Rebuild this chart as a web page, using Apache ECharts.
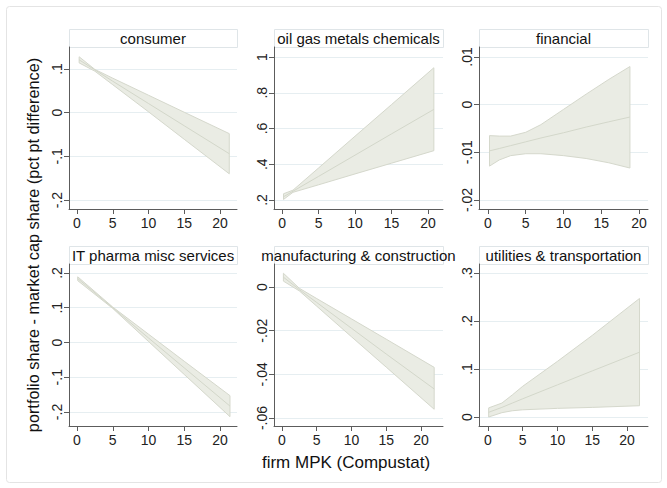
<!DOCTYPE html>
<html>
<head>
<meta charset="utf-8">
<script src="https://cdn.jsdelivr.net/npm/echarts@6/dist/echarts.min.js"></script>
<style>
html,body{margin:0;padding:0;background:#fff;}
#c{width:667px;height:488px;}
</style>
</head>
<body>
<div id="c"></div>
<script>
// ---------- data ----------
const panelTitles = ['consumer', 'oil gas metals chemicals', 'financial',
  'IT pharma misc services', 'manufacturing & construction', 'utilities & transportation'];

const xTicks = [0, 5, 10, 15, 20];

// consumer
const xConsumer   = [0.3, 2.5, 5, 10, 15, 21.3];
const loConsumer  = [0.114, 0.095, 0.064, 0.002, -0.061, -0.140];
const hiConsumer  = [0.128, 0.099, 0.079, 0.040, 0.001, -0.048];
const fitConsumer = [0.121, 0.098, 0.072, 0.021, -0.030, -0.094];
const yTicksConsumer = [-0.2, -0.1, 0, 0.1];

// oil gas metals chemicals
const xOil   = [0.2, 1.5, 5, 10, 15, 20.8];
const loOil  = [0.203, 0.243, 0.285, 0.346, 0.406, 0.476];
const hiOil  = [0.235, 0.255, 0.379, 0.557, 0.734, 0.940];
const fitOil = [0.218, 0.249, 0.332, 0.451, 0.570, 0.707];
const yTicksOil = [0.2, 0.4, 0.6, 0.8, 1];

// financial
const xFin   = [0.2, 1.5, 3, 5, 7, 10, 13, 16, 18.8];
const loFin  = [-0.0129, -0.0116, -0.0107, -0.0103, -0.0103, -0.0107, -0.0113, -0.0122, -0.0133];
const hiFin  = [-0.0065, -0.0066, -0.0066, -0.0058, -0.0042, -0.0010, 0.0022, 0.0053, 0.0080];
const fitFin = [-0.0097, -0.0092, -0.0086, -0.0078, -0.0070, -0.0059, -0.0047, -0.0036, -0.0026];
const yTicksFin = [-0.02, -0.01, 0, 0.01];

// IT pharma misc services
const xIT   = [0.1, 5, 10, 15, 21.4];
const loIT  = [0.178, 0.098, 0.003, -0.092, -0.2135];
const hiIT  = [0.189, 0.102, 0.024, -0.054, -0.153];
const fitIT = [0.184, 0.100, 0.013, -0.073, -0.183];
const yTicksIT = [-0.2, -0.1, 0, 0.1, 0.2];

// manufacturing & construction
const xMan   = [0.2, 2.5, 5, 10, 15, 21.9];
const loMan  = [0.0027, -0.0018, -0.0088, -0.0228, -0.0367, -0.0560];
const hiMan  = [0.0063, -0.0006, -0.0053, -0.0146, -0.0239, -0.0368];
const fitMan = [0.0045, -0.0012, -0.0071, -0.0189, -0.0307, -0.0467];
const yTicksMan = [-0.06, -0.04, -0.02, 0];

// utilities & transportation
const xUt   = [0.1, 2, 3.5, 5, 10, 15, 21.8];
const loUt  = [0.0, 0.009, 0.013, 0.015, 0.018, 0.020, 0.0235];
const hiUt  = [0.019, 0.029, 0.046, 0.064, 0.116, 0.170, 0.247];
const fitUt = [0.0098, 0.020, 0.029, 0.038, 0.067, 0.096, 0.135];
const yTicksUt = [0, 0.1, 0.2, 0.3];

const xTitle = 'firm MPK (Compustat)';
const yTitle = 'portfolio share - market cap share (pct pt difference)';

// ---------- layout ----------
const FONT = '"Liberation Sans", Arial, Helvetica, sans-serif';
const panels = [
  {x: xConsumer, lo: loConsumer, hi: hiConsumer, fit: fitConsumer, yt: yTicksConsumer,
   grid: {left: 69, top: 47, width: 168, height: 162}, xr: [-1.12, 22.38], yr: [-0.2206, 0.1504]},
  {x: xOil, lo: loOil, hi: hiOil, fit: fitOil, yt: yTicksOil,
   grid: {left: 274, top: 47, width: 169, height: 162}, xr: [-1.10, 22.05], yr: [0.1497, 1.056]},
  {x: xFin, lo: loFin, hi: hiFin, fit: fitFin, yt: yTicksFin,
   grid: {left: 479, top: 47, width: 169, height: 162}, xr: [-1.19, 21.19], yr: [-0.0219, 0.0121]},
  {x: xIT, lo: loIT, hi: hiIT, fit: fitIT, yt: yTicksIT,
   grid: {left: 69, top: 264, width: 168, height: 162}, xr: [-1.12, 22.38], yr: [-0.2403, 0.2259]},
  {x: xMan, lo: loMan, hi: hiMan, fit: fitMan, yt: yTicksMan,
   grid: {left: 274, top: 264, width: 169, height: 162}, xr: [-1.15, 23.17], yr: [-0.06366, 0.01053]},
  {x: xUt, lo: loUt, hi: hiUt, fit: fitUt, yt: yTicksUt,
   grid: {left: 479, top: 264, width: 169, height: 162}, xr: [-1.29, 23.02], yr: [-0.01875, 0.31875]}
];

function fmtY(v) {
  const n = Number(Number(v).toFixed(6));
  if (n === 0) return '0';
  return String(n).replace(/^(-?)0\./, '$1.');
}

const AXIS_COLOR = '#5c5c5c';
const grids = [], xAxes = [], yAxes = [], series = [], graphics = [];

// outer frame
graphics.push({type: 'rect', shape: {x: 6.5, y: 6.5, width: 655, height: 476, r: 3},
  style: {fill: 'none', stroke: '#e4e4e4', lineWidth: 1}, silent: true});

panels.forEach((p, i) => {
  grids.push(Object.assign({containLabel: false}, p.grid));
  xAxes.push({
    type: 'value', gridIndex: i, min: p.xr[0], max: p.xr[1],
    axisLine: {show: true, onZero: false, lineStyle: {color: AXIS_COLOR, width: 1}},
    axisTick: {show: true, length: 5, customValues: xTicks, lineStyle: {color: AXIS_COLOR}},
    axisLabel: {show: true, customValues: xTicks, margin: 7, color: '#222', fontSize: 14, fontFamily: FONT},
    splitLine: {show: false}
  });
  yAxes.push({
    type: 'value', gridIndex: i, min: p.yr[0], max: p.yr[1],
    axisLine: {show: true, onZero: false, lineStyle: {color: AXIS_COLOR, width: 1}},
    axisTick: {show: true, length: 5, customValues: p.yt, lineStyle: {color: AXIS_COLOR}},
    axisLabel: {show: true, customValues: p.yt, rotate: 90, margin: 5, color: '#222', fontSize: 14,
      fontFamily: FONT, formatter: fmtY},
    splitLine: {show: true, lineStyle: {color: '#e6eef1', width: 1}}
  });
  const band = p.x.map((xv, k) => [xv, p.lo[k], p.hi[k]]);
  series.push({
    type: 'custom', xAxisIndex: i, yAxisIndex: i, data: band,
    encode: {x: 0, y: [1, 2]},
    clip: true, silent: true,
    renderItem: (params, api) => {
      if (params.dataIndex !== 0) return null;
      const pts = [];
      for (let k = 0; k < band.length; k++) pts.push(api.coord([band[k][0], band[k][2]]));
      for (let k = band.length - 1; k >= 0; k--) pts.push(api.coord([band[k][0], band[k][1]]));
      return {type: 'polygon', shape: {points: pts},
        style: {fill: '#eaece4', stroke: '#d5d8cc', lineWidth: 1}};
    }
  });
  series.push({
    type: 'line', xAxisIndex: i, yAxisIndex: i, symbol: 'none', silent: true,
    data: p.x.map((xv, k) => [xv, p.fit[k]]),
    lineStyle: {color: '#d3d7ca', width: 1}, z: 3
  });
  // subtitle box
  const g = p.grid;
  graphics.push({type: 'rect', shape: {x: g.left + 0.5, y: g.top - 18 + 0.5, width: g.width, height: 18},
    style: {fill: '#ffffff', stroke: '#dfe5e8', lineWidth: 1}, silent: true});
  graphics.push({type: 'text', x: g.left + g.width / 2, y: g.top - 9,
    style: {text: panelTitles[i], fill: '#111', font: '15px ' + FONT, textAlign: 'center', textVerticalAlign: 'middle'},
    silent: true});
});

graphics.push({type: 'text', x: 346, y: 462,
  style: {text: xTitle, fill: '#111', font: '17px ' + FONT, textAlign: 'center', textVerticalAlign: 'middle'}, silent: true});
graphics.push({type: 'text', x: 33, y: 245, rotation: Math.PI / 2,
  style: {text: yTitle, fill: '#111', font: '16.3px ' + FONT, textAlign: 'center', textVerticalAlign: 'middle'}, silent: true});

const chart = echarts.init(document.getElementById('c'), null, {renderer: 'svg', width: 667, height: 488});
chart.setOption({
  animation: false,
  backgroundColor: '#ffffff',
  grid: grids, xAxis: xAxes, yAxis: yAxes, series: series, graphic: graphics
});
</script>
</body>
</html>
